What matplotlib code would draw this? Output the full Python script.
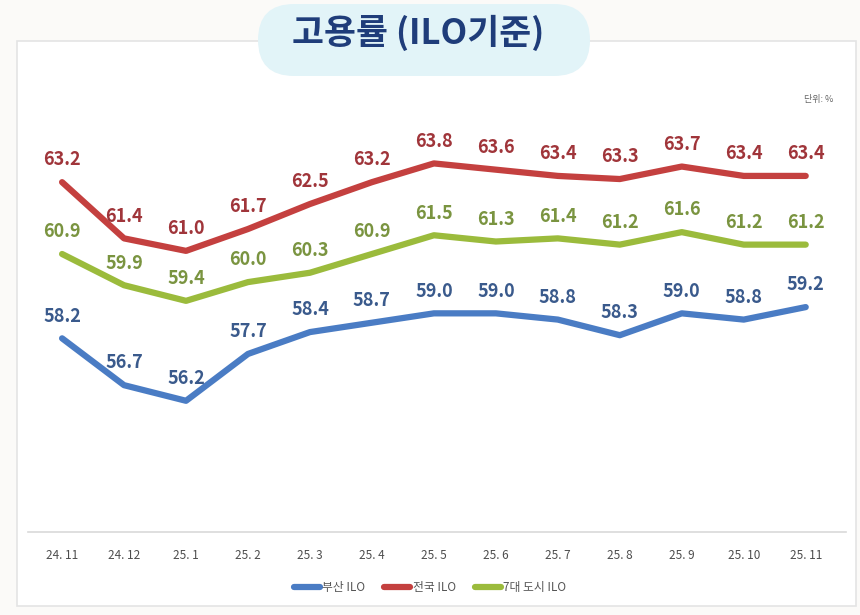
import matplotlib
matplotlib.use('Agg')
import matplotlib.pyplot as plt
from matplotlib.patches import FancyBboxPatch, Rectangle

plt.rcParams['font.family'] = ['Noto Sans CJK KR', 'DejaVu Sans']

months = ['24. 11', '24. 12', '25. 1', '25. 2', '25. 3', '25. 4', '25. 5',
          '25. 6', '25. 7', '25. 8', '25. 9', '25. 10', '25. 11']
busan = [58.2, 56.7, 56.2, 57.7, 58.4, 58.7, 59.0, 59.0, 58.8, 58.3, 59.0, 58.8, 59.2]
national = [63.2, 61.4, 61.0, 61.7, 62.5, 63.2, 63.8, 63.6, 63.4, 63.3, 63.7, 63.4, 63.4]
seven_cities = [60.9, 59.9, 59.4, 60.0, 60.3, 60.9, 61.5, 61.3, 61.4, 61.2, 61.6, 61.2, 61.2]
series_names = ['부산 ILO', '전국 ILO', '7대 도시 ILO']

line_colors = ['#4a7cc4', '#c4403f', '#9bbb3c']
label_colors = ['#3a5a8c', '#a0353a', '#7a9440']

fig = plt.figure(figsize=(8.6, 6.15), dpi=100)
fig.patch.set_facecolor('#fbfaf8')

# chart frame
fig.patches.append(Rectangle((17 / 860, 1 - 606 / 615), 839 / 860, 565 / 615,
                             transform=fig.transFigure, facecolor='white',
                             edgecolor='#e4e4e4', lw=1.2, zorder=0))

# title pill (inches)
fig.patches.append(FancyBboxPatch((2.58, 5.39), 3.32, 0.72,
                                  boxstyle='round,pad=0,rounding_size=0.36',
                                  transform=fig.dpi_scale_trans, facecolor='#e2f4f8',
                                  edgecolor='none', zorder=1))
fig.text(418 / 860, 1 - 33 / 615, '고용률 (ILO기준)', ha='center', va='center',
         fontsize=25, fontweight='bold', color='#1f3d7a', zorder=2)

ax = fig.add_axes([28 / 860, 0.135, 818 / 860, 0.711])
ax.set_zorder(3)
ax.set_facecolor('none')
xs = list(range(len(months)))

for vals, name, lc, tc in zip([busan, national, seven_cities], series_names,
                              line_colors, label_colors):
    ax.plot(xs, vals, color=lc, lw=4.5, solid_joinstyle='round',
            solid_capstyle='round', label=name)
    for x, v in zip(xs, vals):
        ax.annotate(f'{v:.1f}', (x, v), xytext=(0, 16), textcoords='offset points',
                    ha='center', va='center', fontsize=13, fontweight='bold',
                    color=tc)

ax.set_xlim(-0.55, 12.65)
ax.set_ylim(52, 66)
ax.set_xticks(xs)
ax.set_xticklabels(months, fontsize=8.5, color='#4d4d4d')
ax.tick_params(axis='x', length=0, pad=12)
ax.set_yticks([])
for s in ['top', 'left', 'right']:
    ax.spines[s].set_visible(False)
ax.spines['bottom'].set_color('#d9d9d9')
ax.spines['bottom'].set_linewidth(1.2)

ax.text(0.985, 1.0, '단위: %', transform=ax.transAxes, ha='right', va='top',
        fontsize=6.5, color='#666666')

leg = fig.legend(loc='center', bbox_to_anchor=(0.5, 1 - 588 / 615), ncol=3,
                 frameon=False, fontsize=8.5, handlelength=2.2, columnspacing=1.6,
                 handletextpad=0.2, labelcolor='#555555')
leg.set_zorder(3)

fig.savefig('out.png', dpi=100, facecolor=fig.get_facecolor())
